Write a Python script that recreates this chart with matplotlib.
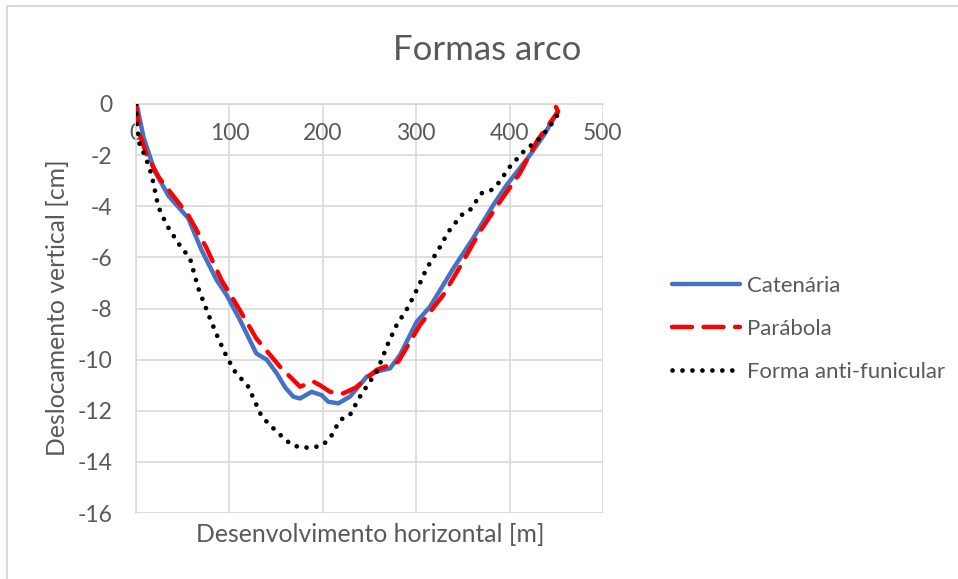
import numpy as np
import matplotlib.pyplot as plt
from matplotlib.lines import Line2D

plt.rcParams['font.family'] = ['Lato', 'DejaVu Sans']

# catenaria
cat_x = [0.7, 8, 20.3, 35, 56, 70, 86.4, 97, 112, 128.8, 139.9, 150, 160, 168.4, 175.6,
         188, 198.8, 205.9, 216.6, 229, 247, 257.7, 272, 282.7, 300.5, 314.8, 339.8,
         361, 382.6, 396.9, 421.8, 437, 450.4]
cat_y = [0, -1.3, -2.65, -3.6, -4.47, -5.7, -6.89, -7.47, -8.5, -9.76, -10.0, -10.5,
         -11.1, -11.45, -11.52, -11.26, -11.39, -11.65, -11.71, -11.45, -10.67, -10.47,
         -10.34, -9.82, -8.52, -7.93, -6.43, -5.25, -3.95, -3.17, -2.0, -1.2, -0.36]

# parabola
par_x = [0, 4, 11.5, 25, 40, 56, 75, 91.7, 107.8, 128.8, 154, 175.6, 189.8, 197,
         207.7, 222, 235, 247, 257.7, 280.8, 304, 329, 348, 368, 389.7, 411, 429,
         442, 452, 448.6]
par_y = [0, -1.2, -2.0, -2.9, -3.6, -4.35, -5.6, -6.9, -7.86, -9.17, -10.27, -11.06,
         -10.86, -11.0, -11.26, -11.32, -11.1, -10.73, -10.4, -10.08, -8.65, -7.47,
         -6.3, -5.0, -3.82, -2.71, -1.47, -0.8, -0.3, -0.04]

# forma anti-funicular
anti_x = [0, 0.7, 4.3, 9.6, 16.8, 23.9, 32.8, 45.3, 57.8, 66.7, 79.2, 88.1, 97, 106,
          120.2, 134.6, 150.6, 166.7, 177.4, 188, 198.8, 207.7, 218.4, 229, 239.7,
          246.8, 257.7, 263, 270, 279, 291.6, 302.3, 311.2, 323.7, 334.4, 341.5,
          348.7, 357.6, 370.1, 380.8, 387.9, 400.4, 414.7, 423.6, 432.5, 439.7,
          446.8, 452.2]
anti_y = [0, -0.82, -1.67, -2.0, -2.78, -4.02, -4.73, -5.45, -6.04, -7.21, -8.39,
          -9.17, -9.88, -10.47, -11.06, -12.23, -12.82, -13.34, -13.44, -13.44,
          -13.37, -13.08, -12.36, -12.17, -11.45, -11.06, -10.47, -10.0, -9.36, -8.65,
          -7.93, -7.15, -6.43, -5.71, -5.0, -4.67, -4.34, -4.15, -3.49, -3.36, -3.1,
          -2.45, -1.87, -1.6, -1.34, -1.02, -0.69, -0.36]

xticks = [0, 100, 200, 300, 400, 500]
yticks = [0, -2, -4, -6, -8, -10, -12, -14, -16]

grey = '#595959'
grid_c = '#d9d9d9'

fig = plt.figure(figsize=(9.58, 5.79), dpi=100)
ax = fig.add_axes([136 / 958, 1 - 513 / 579, 467 / 958, 409 / 579])

ax.plot(cat_x, cat_y, color='#4472c4', lw=3.2, solid_capstyle='round',
        solid_joinstyle='round', label='Catenária', zorder=3)
ax.plot(par_x, par_y, color='#ff0000', lw=3.2, dashes=(4.5, 2.6), dash_capstyle='round',
        label='Parábola', zorder=4)
ax.plot(anti_x, anti_y, color='black', lw=3.4, linestyle=(0, (0.01, 2.1)),
        dash_capstyle='round', label='Forma anti-funicular', zorder=5)

ax.set_xlim(0, 500)
ax.set_ylim(-16, 0)
ax.set_xticks(xticks)
ax.set_yticks(yticks)
ax.set_yticklabels([str(v) for v in yticks])
ax.grid(True, color=grid_c, lw=1.2)
ax.set_axisbelow(True)

for s in ['top', 'right']:
    ax.spines[s].set_visible(False)
ax.spines['bottom'].set_position(('data', 0))
ax.spines['bottom'].set_color(grid_c)
ax.spines['left'].set_color(grid_c)
ax.spines['bottom'].set_linewidth(1.2)
ax.spines['left'].set_linewidth(1.2)
ax.tick_params(length=0, colors=grey, labelsize=16.5)
ax.tick_params(axis='x', pad=14)
ax.tick_params(axis='y', pad=17)

fig.text(487 / 958, 1 - 50 / 579, 'Formas arco', ha='center', va='center',
         fontsize=25, color=grey)
fig.text(58 / 958, 1 - 308 / 579, 'Deslocamento vertical [cm]', rotation=90,
         ha='center', va='center', fontsize=17.8, color=grey)
fig.text(370 / 958, 1 - 535 / 579, 'Desenvolvimento horizontal [m]', ha='center',
         va='center', fontsize=17.8, color=grey)

leg = fig.legend(loc='center left', bbox_to_anchor=(652 / 958, 1 - 329 / 579),
                 frameon=False, fontsize=15.9, handlelength=3.1, handletextpad=0.3,
                 labelspacing=1.05, labelcolor=grey)

# outer chart border
fig.add_artist(Line2D([7 / 958, 7 / 958], [0, 1 - 6 / 579], color='#d9d9d9', lw=1.5))
fig.add_artist(Line2D([7 / 958, 1], [1 - 6 / 579, 1 - 6 / 579], color='#d9d9d9', lw=1.5))

fig.savefig('out.png', dpi=100)
